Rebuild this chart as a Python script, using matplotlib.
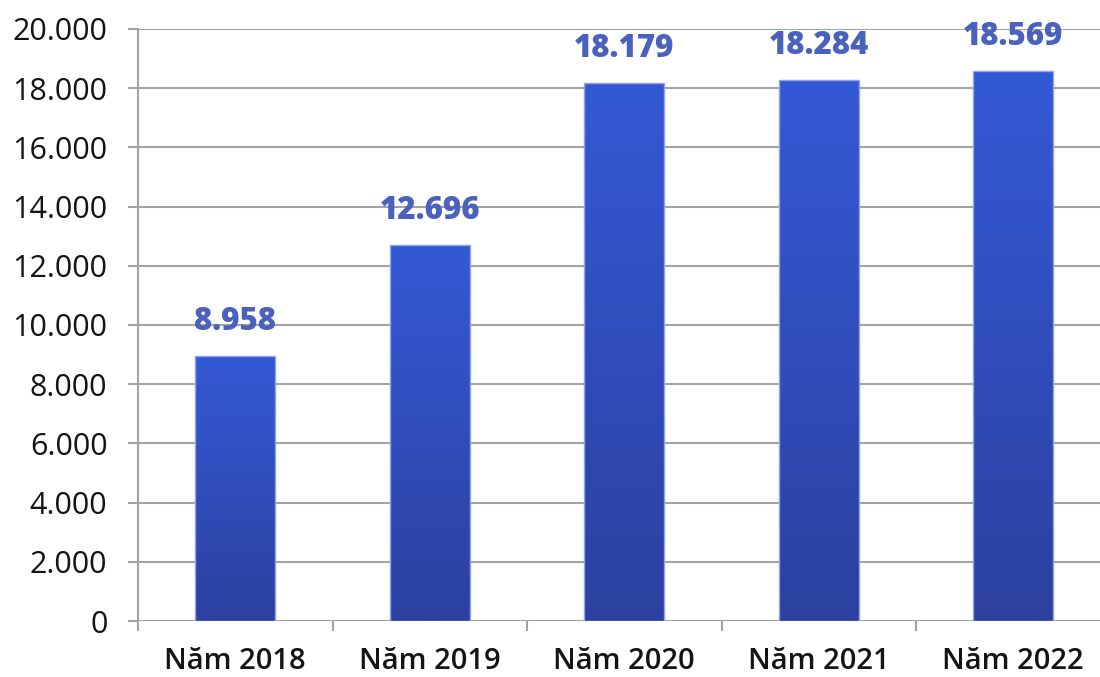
import matplotlib
matplotlib.use("Agg")
import matplotlib.pyplot as plt
import numpy as np
from matplotlib.colors import LinearSegmentedColormap

categories = ["Năm 2018", "Năm 2019", "Năm 2020", "Năm 2021", "Năm 2022"]
values = [8958, 12696, 18179, 18284, 18569]
value_labels = ["8.958", "12.696", "18.179", "18.284", "18.569"]
yticks = [0, 2000, 4000, 6000, 8000, 10000, 12000, 14000, 16000, 18000, 20000]
ytick_labels = ["0", "2.000", "4.000", "6.000", "8.000", "10.000", "12.000",
                "14.000", "16.000", "18.000", "20.000"]

plt.rcParams['font.family'] = ['Open Sans', 'DejaVu Sans']

fig = plt.figure(figsize=(11, 6.77), dpi=100)
ax = fig.add_axes([0.1255, 0.0827, 0.8745, 0.8745])

grid_c = "#a3a3a3"
x = np.arange(len(categories))
width = 0.41
bars = ax.bar(x, values, width=width, color="none", edgecolor="#8fa3ee", linewidth=1.0, zorder=3)

cmap = LinearSegmentedColormap.from_list("g", ["#2c419f", "#3459d6"])
grad = np.linspace(0, 1, 256).reshape(-1, 1)
for b in bars:
    x0, y0 = b.get_x(), b.get_y()
    w, h = b.get_width(), b.get_height()
    im = ax.imshow(grad, cmap=cmap, origin="lower", aspect="auto",
                   extent=[x0, x0 + w, y0, y0 + h], zorder=2)
    im.set_clip_path(b)

for xi, v, lab in zip(x, values, value_labels):
    ax.annotate(lab, (xi, v), xytext=(0, 13), textcoords="offset points",
                ha="center", va="bottom", fontsize=22.5, fontweight="heavy",
                color="#4a62bd", zorder=4)

ax.set_xlim(-0.5, 4.446)
ax.set_ylim(0, 20000)
ax.set_yticks(yticks)
ax.set_yticklabels(ytick_labels, fontsize=22, color="#141414", fontweight="medium")
ax.set_xticks(x)
ax.set_xticklabels(categories, fontsize=21, color="#141414", fontweight="semibold")
ax.tick_params(axis="x", length=0, pad=19)
ax.set_xticks(np.arange(-0.5, 4.0, 1.0), minor=True)
ax.tick_params(axis="x", which="minor", length=7, width=1.5, color=grid_c)
ax.tick_params(axis="y", length=7, width=1.5, color=grid_c, pad=15)

ax.grid(axis="y", color=grid_c, linewidth=1.5, zorder=0)
ax.set_axisbelow(True)
for s in ["top", "right", "bottom"]:
    ax.spines[s].set_visible(False)
ax.spines["left"].set_color(grid_c)
ax.spines["left"].set_linewidth(1.5)

fig.savefig("out.png", dpi=100)
